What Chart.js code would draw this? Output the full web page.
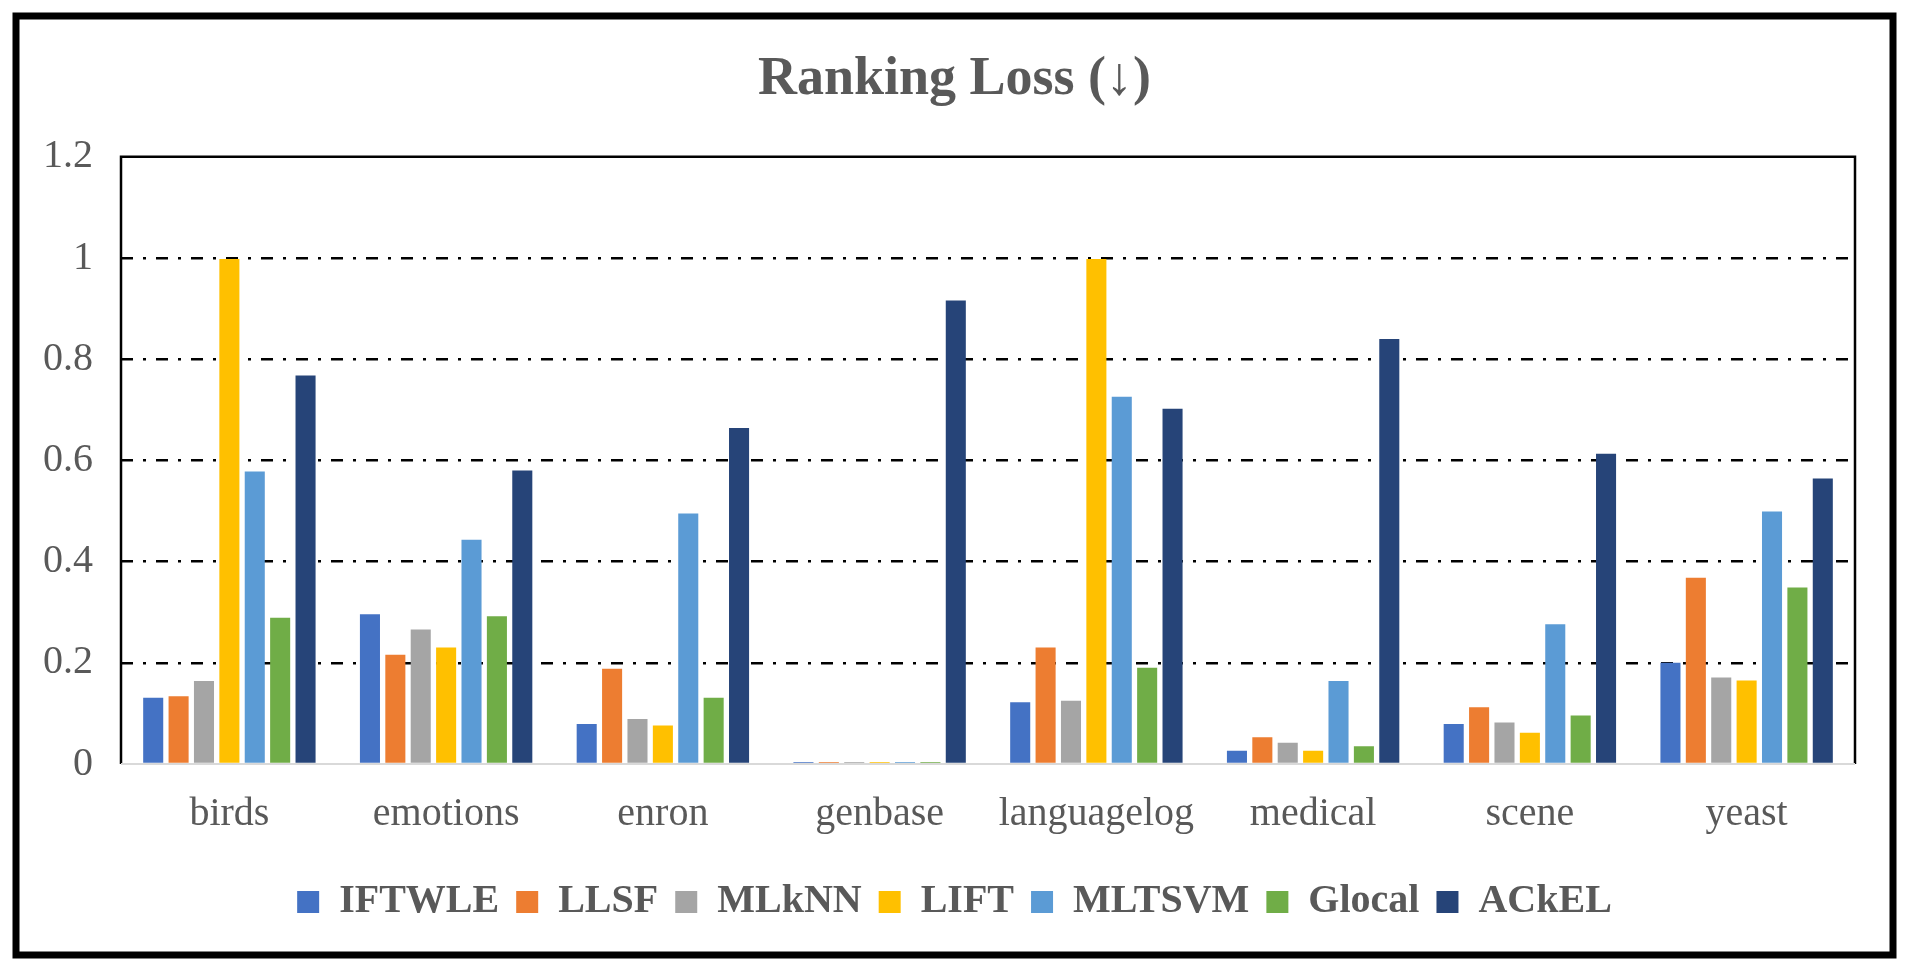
<!DOCTYPE html>
<html>
<head>
<meta charset="utf-8">
<script src="https://cdn.jsdelivr.net/npm/chart.js@4"></script>
<style>
  html, body { margin: 0; padding: 0; background: #fff; }
  #wrap { width: 1909px; height: 971px; }
</style>
</head>
<body>
<div id="wrap"><canvas id="lossChart" width="1909" height="971"></canvas></div>
<script>
const datasetsNames = ['birds', 'emotions', 'enron', 'genbase', 'languagelog', 'medical', 'scene', 'yeast'];
const methods = ['IFTWLE', 'LLSF', 'MLkNN', 'LIFT', 'MLTSVM', 'Glocal', 'ACkEL'];
const colors = ['#4472C4', '#ED7D31', '#A5A5A5', '#FFC000', '#5B9BD5', '#70AD47', '#264478'];

const iftwle = [0.131, 0.296, 0.079, 0.004, 0.122, 0.026, 0.079, 0.200];
const llsf   = [0.134, 0.216, 0.188, 0.004, 0.230, 0.053, 0.112, 0.368];
const mlknn  = [0.164, 0.266, 0.089, 0.004, 0.125, 0.042, 0.082, 0.171];
const lift   = [0.998, 0.230, 0.076, 0.004, 0.998, 0.026, 0.062, 0.165];
const mltsvm = [0.578, 0.443, 0.495, 0.004, 0.726, 0.164, 0.276, 0.499];
const glocal = [0.289, 0.292, 0.131, 0.004, 0.190, 0.035, 0.096, 0.349];
const ackel  = [0.768, 0.580, 0.664, 0.916, 0.702, 0.840, 0.613, 0.564];

const yTicks = [0, 0.2, 0.4, 0.6, 0.8, 1, 1.2];

const series = [iftwle, llsf, mlknn, lift, mltsvm, glocal, ackel];
const textColor = '#595959';
const serif = '"Liberation Serif", "Times New Roman", serif';

// frame round the plot and the thick outer border
const framePlugin = {
    id: 'frame',
    afterDatasetsDraw(chart) {
        const { ctx, chartArea: a } = chart;
        ctx.save();
        ctx.lineWidth = 2.5;
        ctx.strokeStyle = '#000';
        ctx.beginPath();
        ctx.moveTo(a.left, a.bottom);
        ctx.lineTo(a.left, a.top);
        ctx.lineTo(a.right, a.top);
        ctx.lineTo(a.right, a.bottom);
        ctx.stroke();
        ctx.strokeStyle = '#d9d9d9';
        ctx.lineWidth = 2;
        ctx.beginPath();
        ctx.moveTo(a.left, a.bottom);
        ctx.lineTo(a.right, a.bottom);
        ctx.stroke();
        ctx.restore();
    },
    afterDraw(chart) {
        const ctx = chart.ctx;
        ctx.save();
        ctx.lineWidth = 7;
        ctx.strokeStyle = '#000';
        ctx.strokeRect(16, 16, 1877, 939);
        ctx.restore();
    }
};

window.onload = function() {
    const ctx = document.getElementById('lossChart').getContext('2d');
    new Chart(ctx, {
        type: 'bar',
        data: {
            labels: datasetsNames,
            datasets: methods.map((m, i) => ({
                label: m,
                data: series[i],
                backgroundColor: colors[i],
                borderWidth: 0,
                categoryPercentage: 0.82,
                barPercentage: 0.79
            }))
        },
        options: {
            responsive: false,
            animation: false,
            layout: { padding: { left: 20, right: 20, top: 20, bottom: 39 } },
            scales: {
                x: {
                    grid: { display: false, drawTicks: false },
                    border: { display: false },
                    ticks: {
                        color: textColor,
                        padding: 26,
                        font: { family: serif, size: 40 }
                    },
                    afterFit(scale) { scale.height = 101; }
                },
                y: {
                    min: 0,
                    max: 1.2,
                    afterBuildTicks(scale) { scale.ticks = yTicks.map(v => ({ value: v })); },
                    afterFit(scale) { scale.width = 101; },
                    grid: {
                        drawTicks: false,
                        lineWidth: 2.5,
                        color: c => (c.tick && (c.tick.value === 0 || c.tick.value === 1.2)) ? 'rgba(0,0,0,0)' : '#000'
                    },
                    border: { display: false, dash: [12, 10, 3, 10] },
                    ticks: {
                        color: textColor,
                        padding: 28,
                        font: { family: serif, size: 40 },
                        callback: v => String(v)
                    }
                },
                // empty right axis, only keeps the plot off the right edge
                yRight: {
                    position: 'right',
                    grid: { display: false, drawTicks: false },
                    border: { display: false },
                    ticks: { display: false },
                    afterFit(scale) { scale.width = 34; }
                }
            },
            plugins: {
                title: {
                    display: true,
                    text: 'Ranking Loss (↓)',
                    color: textColor,
                    font: { family: serif, size: 54, weight: 'bold' },
                    padding: { top: 28, bottom: 44 }
                },
                legend: {
                    position: 'bottom',
                    labels: {
                        color: textColor,
                        boxWidth: 22,
                        boxHeight: 22,
                        padding: 17,
                        font: { family: serif, size: 40, weight: 'bold' }
                    }
                },
                tooltip: { enabled: false }
            }
        },
        plugins: [framePlugin]
    });
};
</script>
</body>
</html>
